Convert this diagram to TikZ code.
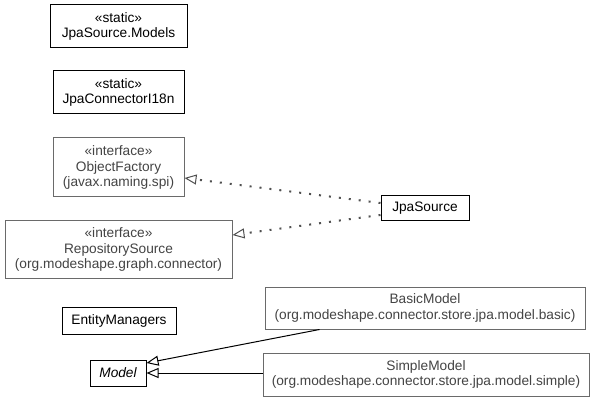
\documentclass[tikz,border=0pt]{standalone}
\usepackage{fontspec}
\setmainfont{Liberation Sans}
\usetikzlibrary{arrows.meta,calc}
\definecolor{edgegray}{HTML}{6A6A6A}
\definecolor{txtgray}{HTML}{444444}
\definecolor{dotgray}{HTML}{505050}
\begin{document}
\begin{tikzpicture}[x=1pt,y=-1pt,
  base/.style={inner sep=0pt, align=center, font=\fontsize{13.7}{15.5}\selectfont},
  cls/.style={base, draw=black, line width=1pt},
  ext/.style={base, draw=edgegray, line width=1pt, text=txtgray},
  realize/.style={draw=dotgray, line width=2pt, dash pattern=on 2pt off 8pt,
    -{Triangle[open,length=12pt,width=10pt,line width=1pt]}},
  inherit/.style={draw=black, line width=1pt,
    -{Triangle[open,length=12pt,width=10pt,line width=1pt]}}]
\useasboundingbox (0,0) rectangle (595,401);
\fill[white] (0,0) rectangle (595,401);
\node[cls, minimum width=137pt, minimum height=43pt] (models) at (118.5,26.5) {«static»\\JpaSource.Models};
\node[cls, minimum width=131pt, minimum height=43pt] (i18n) at (118.5,92.5) {«static»\\JpaConnectorI18n};
\node[ext, minimum width=131pt, minimum height=59pt] (objf) at (118.5,167.5) {«interface»\\ObjectFactory\\(javax.naming.spi)};
\node[ext, minimum width=227pt, minimum height=57pt] (repo) at (118.5,249.5) {«interface»\\RepositorySource\\(org.modeshape.graph.connector)};
\node[cls, minimum width=88pt, minimum height=25pt] (jpa) at (425,208.5) {JpaSource};
\node[cls, minimum width=114pt, minimum height=27pt] (entity) at (119,321) {EntityManagers};
\node[cls, minimum width=56pt, minimum height=26pt, font=\fontsize{13.7}{15.5}\selectfont\itshape] (model) at (118,373) {Model};
\node[ext, minimum width=320pt, minimum height=42pt] (basic) at (425,308) {BasicModel\\(org.modeshape.connector.store.jpa.model.basic)};
\node[ext, minimum width=326pt, minimum height=43pt] (simple) at (426,374.5) {SimpleModel\\(org.modeshape.connector.store.jpa.model.simple)};
\draw[realize] ($(jpa.west)+(0,-5.5)$) -- ($(objf.east)+(0,10.5)$);
\draw[realize] ($(jpa.west)+(0,6.5)$) -- ($(repo.east)+(0,-14.5)$);
\draw[inherit] ($(basic.south west)+(55,0)$) -- ($(model.east)+(0,-10)$);
\draw[inherit] (simple.west |- model.east) -- (model.east);
\end{tikzpicture}
\end{document}
